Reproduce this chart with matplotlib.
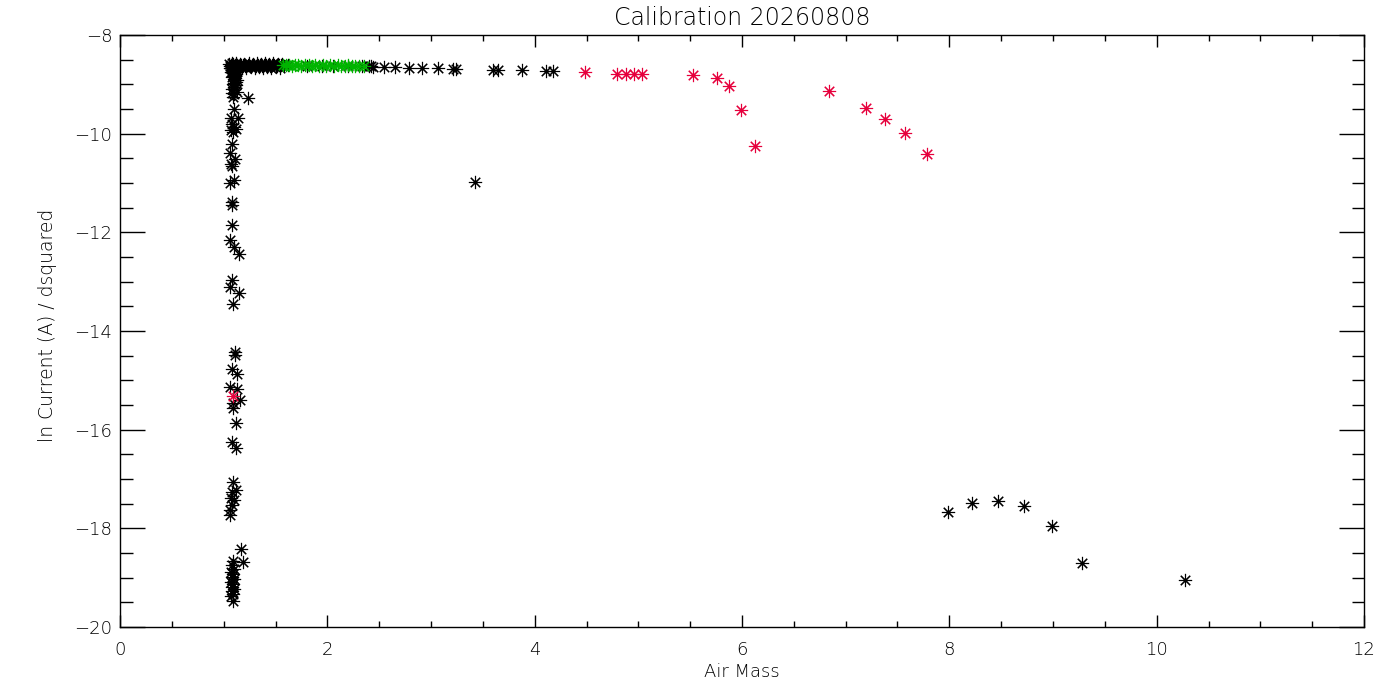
import matplotlib
matplotlib.use("Agg")
import matplotlib.pyplot as plt
from matplotlib.ticker import MultipleLocator, FuncFormatter

# ---------------- data ----------------
# black points: dense band at the top
band_x = [1.05, 1.06, 1.07, 1.08, 1.09, 1.10, 1.11, 1.12, 1.13, 1.14, 1.15, 1.17,
          1.19, 1.21, 1.23, 1.25, 1.27, 1.29, 1.31, 1.33, 1.35, 1.37, 1.39, 1.41,
          1.43, 1.45, 1.47, 1.49, 1.51, 1.53, 1.55, 1.58, 1.62, 1.80, 1.95, 2.05,
          2.20, 2.33, 2.40, 2.42,
          1.06, 1.08, 1.10, 1.12, 1.14, 1.16, 1.18, 1.20, 1.22, 1.24, 1.26, 1.28,
          1.30, 1.32, 1.34, 1.36, 1.38, 1.40, 1.42, 1.44, 1.46, 1.48, 1.50, 1.52,
          1.54, 1.56]
band_y = [-8.58, -8.62, -8.60, -8.64, -8.59, -8.63, -8.61, -8.65, -8.60, -8.62, -8.64, -8.60,
          -8.61, -8.63, -8.60, -8.62, -8.61, -8.60, -8.62, -8.61, -8.60, -8.62, -8.61, -8.60,
          -8.61, -8.62, -8.60, -8.61, -8.62, -8.60, -8.61, -8.62, -8.61, -8.62, -8.62, -8.62,
          -8.63, -8.62, -8.63, -8.63,
          -8.66, -8.57, -8.67, -8.57, -8.66, -8.58, -8.65, -8.58, -8.66, -8.57, -8.65, -8.58,
          -8.66, -8.57, -8.65, -8.58, -8.66, -8.57, -8.65, -8.58, -8.66, -8.57, -8.65, -8.58,
          -8.66, -8.59]

# black points: vertical stem at air mass ~1.1
stem_x = [1.08, 1.10, 1.12, 1.09, 1.11, 1.08, 1.10, 1.12, 1.09, 1.10, 1.13, 1.08, 1.10,
          1.23, 1.09, 1.10, 1.07, 1.14, 1.08, 1.10, 1.07, 1.12, 1.09, 1.08, 1.06, 1.11,
          1.07, 1.08, 1.10, 1.06, 1.08, 1.08, 1.08, 1.06, 1.10, 1.15, 1.08, 1.06, 1.15,
          1.09, 1.11, 1.11, 1.08, 1.13, 1.06, 1.13, 1.16, 1.09, 1.09, 1.12, 1.08, 1.12,
          1.09, 1.12, 1.08, 1.10, 1.07, 1.08, 1.06, 1.06, 1.17, 1.19, 1.09, 1.08, 1.10,
          1.07, 1.09, 1.08, 1.10, 1.07, 1.09, 1.08, 1.10, 1.08, 1.09, 1.07, 1.09,
          1.11, 1.13, 1.07, 1.12, 1.09, 1.11, 1.13, 1.10, 1.12, 1.08]
stem_y = [-8.70, -8.72, -8.75, -8.78, -8.82, -8.86, -8.90, -8.95, -9.00, -9.05, -9.15, -9.18, -9.20,
          -9.28, -9.25, -9.49, -9.68, -9.68, -9.80, -9.86, -9.92, -9.90, -9.96, -10.20, -10.39, -10.52,
          -10.61, -10.65, -10.94, -11.01, -11.38, -11.45, -11.86, -12.16, -12.30, -12.43, -12.97, -13.10, -13.22,
          -13.45, -14.42, -14.49, -14.78, -14.87, -15.14, -15.18, -15.40, -15.45, -15.57, -15.87, -16.24, -16.37,
          -17.07, -17.22, -17.26, -17.43, -17.39, -17.53, -17.63, -17.72, -18.41, -18.68, -18.66, -18.75, -18.82,
          -18.88, -18.93, -18.98, -19.03, -19.08, -19.13, -19.18, -19.23, -19.28, -19.33, -19.38, -19.48,
          -8.68, -8.71, -8.74, -8.80, -8.84, -8.88, -8.92, -8.97, -9.02, -9.10]

# black points: the rest
rest_x = [2.44, 2.55, 2.65, 2.79, 2.91, 3.07, 3.21, 3.24, 3.60, 3.65, 3.88, 4.11, 4.18,
          3.42, 7.99, 8.22, 8.47, 8.72, 8.99, 9.28, 10.27]
rest_y = [-8.64, -8.64, -8.65, -8.66, -8.67, -8.67, -8.68, -8.68, -8.70, -8.70, -8.71, -8.72, -8.72,
          -10.98, -17.66, -17.49, -17.45, -17.54, -17.95, -18.71, -19.05]

# green points
green_x = [1.57, 1.60, 1.63, 1.66, 1.69, 1.72, 1.75, 1.78, 1.82, 1.85, 1.88, 1.92,
           1.96, 1.99, 2.03, 2.06, 2.10, 2.13, 2.17, 2.20, 2.24, 2.27, 2.31, 2.35]
green_y = [-8.60, -8.61, -8.60, -8.62, -8.61, -8.60, -8.62, -8.61, -8.61, -8.62, -8.60, -8.62,
           -8.61, -8.62, -8.61, -8.62, -8.61, -8.62, -8.62, -8.61, -8.62, -8.63, -8.62, -8.63]

# red points
red_x = [1.09, 4.49, 4.79, 4.88, 4.96, 5.04, 5.53, 5.76, 5.87, 5.99, 6.13, 6.84, 7.20, 7.38, 7.57, 7.78]
red_y = [-15.31, -8.75, -8.79, -8.79, -8.79, -8.79, -8.81, -8.87, -9.03, -9.52, -10.25, -9.14, -9.48, -9.70, -9.99, -10.41]

title = "Calibration 20260808"
xlabel = "Air Mass"
ylabel = "ln Current (A) / dsquared"

# ---------------- plot ----------------
plt.rcParams["font.family"] = ["DejaVu Sans"]
plt.rcParams["font.weight"] = "light"

fig = plt.figure(figsize=(14, 7), dpi=100)
ax = fig.add_axes([120 / 1400, 1 - 627 / 700, 1244 / 1400, 592 / 700])

mk = dict(marker=(8, 2, 0), linestyle="none", markersize=9.5, markeredgewidth=0.8)
ax.plot(band_x + stem_x + rest_x, band_y + stem_y + rest_y, color="black", **mk)
ax.plot(green_x, green_y, color="#00B400", **mk)
ax.plot(red_x, red_y, color="#E6003C", **mk)

ax.set_xlim(0, 12)
ax.set_ylim(-20, -8)
ax.xaxis.set_major_locator(MultipleLocator(2))
ax.xaxis.set_minor_locator(MultipleLocator(0.5))
ax.yaxis.set_major_locator(MultipleLocator(2))
ax.yaxis.set_minor_locator(MultipleLocator(0.5))
ax.yaxis.set_major_formatter(FuncFormatter(lambda v, p: f"{int(round(v))}".replace("-", "\u2212")))
ax.xaxis.set_major_formatter(FuncFormatter(lambda v, p: f"{int(round(v))}"))

ax.tick_params(which="both", direction="in", top=True, right=True, width=1, colors="black")
ax.tick_params(axis="y", which="major", length=18, pad=5.5, labelsize=13)
ax.tick_params(axis="y", which="minor", length=9)
ax.tick_params(axis="x", which="major", length=8.5, pad=10, labelsize=13)
ax.tick_params(axis="x", which="minor", length=4.3)
for s in ax.spines.values():
    s.set_linewidth(1)

fig.text(742 / 1400, 1 - 25 / 700, title, ha="center", va="baseline", fontsize=17)
fig.text(742 / 1400, 1 - 677 / 700, xlabel, ha="center", va="baseline", fontsize=13)
fig.text(48 / 1400, 1 - 325 / 700, ylabel, ha="center", va="center", rotation=90, fontsize=13.5)

fig.savefig("out.png", dpi=100)
